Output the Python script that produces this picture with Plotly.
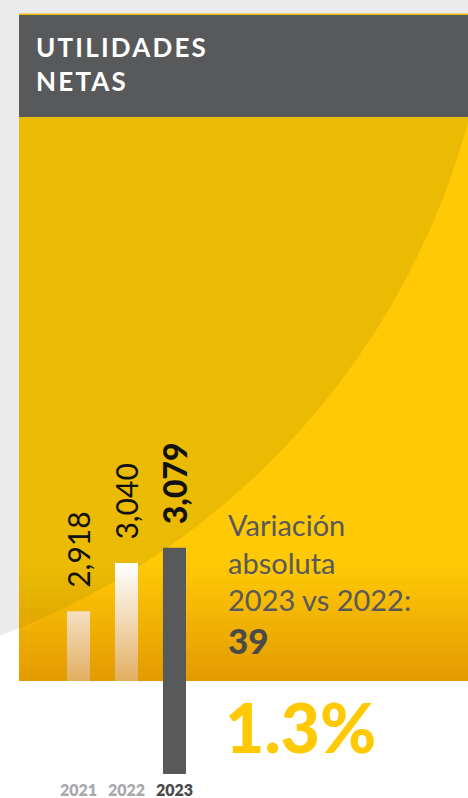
import numpy as np
import plotly.graph_objects as go

# ---------------- data ----------------
years = ["2021", "2022", "2023"]
values = [2918, 3040, 3079]
title_lines = ["UTILIDADES", "NETAS"]
variation_lines = ["Variación", "absoluta", "2023 vs 2022:"]

# derived figures
abs_var = values[2] - values[1]
pct_var = abs_var / values[1] * 100

# ---------------- layout constants ----------------
W, H = 468, 798
BG_GRAY = "#EBEBEB"
DARK = "#58595B"
YEL = "#FFC905"
YEL_D = "#EABB02"
FONT = "Lato"

PANEL_X0, PANEL_X1 = 19, W
HEAD_Y0, HEAD_Y1 = 15, 117
PANEL_Y1 = 681
CX, CY, R = -268, -79, 763  # big decorative circle (pixel coords)

fig = go.Figure()


def poly(xs, ys, color, xa="x", ya="y", **kw):
    fig.add_trace(go.Scatter(
        x=list(xs), y=list(ys), fill="toself", fillcolor=color, mode="none",
        hoverinfo="skip", showlegend=False, xaxis=xa, yaxis=ya, **kw))


def rect(x0, y0, x1, y1, color, xa="x", ya="y", **kw):
    poly([x0, x1, x1, x0, x0], [y0, y0, y1, y1, y0], color, xa, ya, **kw)


# gray circle behind everything (outside of it stays white)
fig.add_shape(type="circle", xref="x", yref="y", x0=CX - R, x1=CX + R,
              y0=CY - R, y1=CY + R, fillcolor=BG_GRAY, line_width=0, layer="below")

# yellow panel
rect(PANEL_X0, HEAD_Y1, PANEL_X1, PANEL_Y1, YEL)
# darker part of the panel inside the circle
t_r = np.arccos((PANEL_X1 - CX) / R)
t_l = np.arccos((PANEL_X0 - CX) / R)
ts = np.linspace(t_r, t_l, 200)
arc_x = CX + R * np.cos(ts)
arc_y = CY + R * np.sin(ts)
px = [PANEL_X0, PANEL_X1] + list(arc_x) + [PANEL_X0]
py = [HEAD_Y1, HEAD_Y1] + list(arc_y) + [HEAD_Y1]
poly(px, py, YEL_D)
# header
rect(PANEL_X0, HEAD_Y0, PANEL_X1, HEAD_Y1, DARK)
rect(PANEL_X0, HEAD_Y0 - 1.5, PANEL_X1, HEAD_Y0, "#EBBB00")

# white bars (2021, 2022)
white_vals = values[:2] + [None]
fig.add_trace(go.Bar(x=years, y=white_vals, width=0.48,
                     marker=dict(color="white", line_width=0),
                     hoverinfo="skip", showlegend=False, xaxis="x2", yaxis="y2"))

# bottom orange shading of the panel (over the white bars)
GR_Y0 = 565
rect(PANEL_X0, GR_Y0, PANEL_X1, PANEL_Y1, "rgba(0,0,0,0)", xa="x3", ya="y3",
     fillgradient=dict(type="vertical", start=GR_Y0, stop=PANEL_Y1,
                       colorscale=[[0, "rgba(210,125,0,0)"], [1, "rgba(210,125,0,0.62)"]]))

# dark bar (2023)
dark_vals = [None, None] + values[2:]
fig.add_trace(go.Bar(x=years, y=dark_vals, width=0.48,
                     marker=dict(color=DARK, line_width=0),
                     hoverinfo="skip", showlegend=False, xaxis="x4", yaxis="y4"))

# value labels
for i, v in enumerate(values):
    last = i == len(values) - 1
    fig.add_annotation(
        x=i, y=v, xref="x2", yref="y2", text=f"{v:,}", textangle=-90,
        showarrow=False, xanchor="center", yanchor="bottom", yshift=22,
        font=dict(family=FONT, size=32 if last else 30, color="#111111",
                  weight=900 if last else 400))


def pyp(p):
    return 1 - p / H


# title
title_txt = "<br>".join(f'<span style="letter-spacing:2.2px">{t}</span>' for t in title_lines)
fig.add_annotation(x=34 / W, y=pyp(63.5), xref="paper", yref="paper", text=title_txt,
                   showarrow=False, xanchor="left", yanchor="middle", align="left",
                   font=dict(family=FONT, size=26, color="white", weight=700))

# variation text
fig.add_annotation(x=226 / W, y=pyp(562), xref="paper", yref="paper",
                   text="<br>".join(variation_lines), showarrow=False,
                   xanchor="left", yanchor="middle", align="left",
                   font=dict(family=FONT, size=29, color=DARK, weight=400))
fig.add_annotation(x=226 / W, y=pyp(640), xref="paper", yref="paper",
                   text=f"{abs_var:,}", showarrow=False,
                   xanchor="left", yanchor="middle", align="left",
                   font=dict(family=FONT, size=35, color="#4A4A48", weight=900))
fig.add_annotation(x=223 / W, y=pyp(726), xref="paper", yref="paper",
                   text=f"{pct_var:.1f}%", showarrow=False,
                   xanchor="left", yanchor="middle", align="left",
                   font=dict(family=FONT, size=68, color=YEL, weight=900))

tick_colors = ["#A7A9AC", "#A7A9AC", "#4A4A4C"]
tick_text = [f'<span style="color:{c}">{y}</span>' for y, c in zip(years, tick_colors)]

BAR_BOTTOM = 774
X_RANGE = [-1.635, 8.115]
Y_RANGE = [2506, 4466]
ydom = [(H - BAR_BOTTOM) / H, 1]

cat_axis = dict(domain=[0, 1], type="category", categoryorder="array",
                categoryarray=years, range=X_RANGE, showgrid=False, zeroline=False,
                showline=False, ticks="", automargin=False)

fig.update_layout(
    template="none", width=W, height=H, autosize=False,
    margin=dict(l=0, r=0, t=0, b=0, pad=0),
    paper_bgcolor="white", plot_bgcolor="rgba(0,0,0,0)", showlegend=False,
    xaxis=dict(range=[0, W], domain=[0, 1], visible=False, fixedrange=True, anchor="y"),
    yaxis=dict(range=[H, 0], domain=[0, 1], visible=False, fixedrange=True, anchor="x"),
    xaxis2=dict(cat_axis, anchor="y2", tickmode="array", tickvals=years,
                ticktext=tick_text, ticklabelstandoff=5,
                tickfont=dict(family=FONT, size=16, weight=800)),
    yaxis2=dict(domain=ydom, anchor="x2", range=Y_RANGE, visible=False, automargin=False),
    xaxis3=dict(range=[0, W], domain=[0, 1], visible=False, anchor="y3"),
    yaxis3=dict(range=[H, 0], domain=[0, 1], visible=False, anchor="x3"),
    xaxis4=dict(cat_axis, anchor="y4", showticklabels=False),
    yaxis4=dict(domain=ydom, anchor="x4", range=Y_RANGE, visible=False, automargin=False),
)

fig.write_html("out.html", config={"displayModeBar": False},
               post_script="document.body.style.margin='0';")
